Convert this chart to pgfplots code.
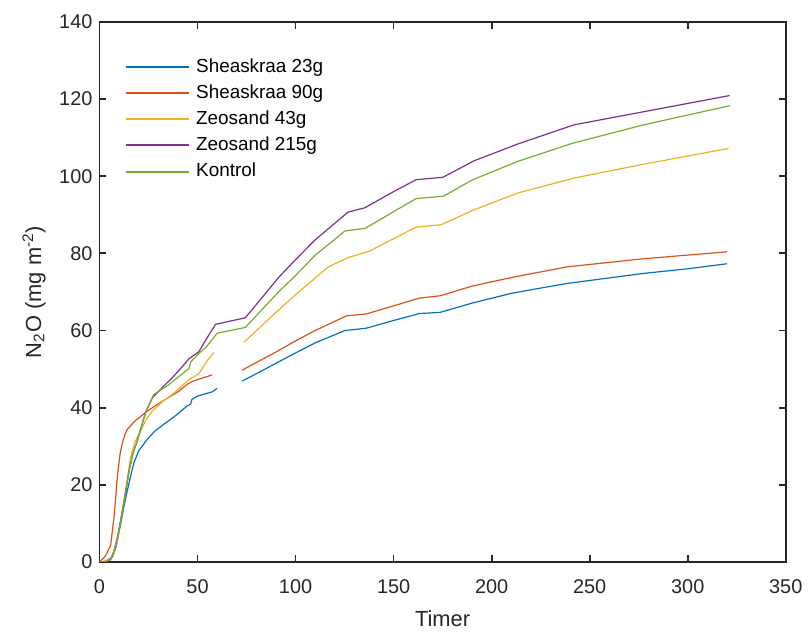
\documentclass[border=0pt]{standalone}
\usepackage{fontspec}
\setmainfont{Liberation Sans}
\usepackage{pgfplots}
\pgfplotsset{compat=1.18}

\definecolor{mblue}{rgb}{0,0.447,0.741}
\definecolor{mred}{rgb}{0.85,0.325,0.098}
\definecolor{myellow}{rgb}{0.929,0.694,0.125}
\definecolor{mpurple}{rgb}{0.494,0.184,0.556}
\definecolor{mgreen}{rgb}{0.466,0.674,0.188}
\definecolor{axgray}{rgb}{0.15,0.15,0.15}

\begin{document}
\begin{tikzpicture}
\begin{axis}[
    width=345pt, height=271.5pt,
    scale only axis,
    xmin=0, xmax=350, ymin=0, ymax=140,
    xtick={0,50,...,350},
    ytick={0,20,...,140},
    tick align=inside,
    major tick length=3.5pt,
    axis line style={axgray, line width=0.9pt},
    every tick/.style={axgray, line width=0.9pt},
    tick label style={font=\fontsize{10}{12}\selectfont, text=axgray},
    xticklabel style={yshift=-5.5pt},
    /pgf/number format/assume math mode=true,
    xlabel={Timer},
    ylabel={N\textsubscript{2}O (mg m\textsuperscript{-2})},
    label style={font=\fontsize{11}{13}\selectfont, text=axgray},
    xlabel style={yshift=-1.5pt},
    unbounded coords=jump,
    every axis plot/.append style={line width=0.6pt},
    legend style={draw=none, fill=none, at={(0.038,0.94)}, anchor=north west,
        font=\fontsize{9.5}{11}\selectfont, row sep=0.75pt, inner sep=0pt},
    legend image code/.code={\fill[#1, draw=none] (0pt,-0.5pt) rectangle (31.5pt,0.5pt);
        \path (33pt,0pt);},
    legend cell align=left,
]
% Sheaskraa 23g
\addplot[color=mblue] coordinates {
(0,0) (3,0.2) (6.6,1.3) (8.5,4) (10.8,9.9) (12.5,14.5) (14.2,18.5) (16,22.5)
(17.6,25.8) (20,28.8) (24.4,31.8) (28,33.8) (32.8,35.7) (38,37.6) (44.6,40.4)
(46.5,40.9) (47.1,42.1) (49.9,43) (54,43.6) (57.5,44.1) (60,45.0) (66,nan)
(72.7,46.9) (77,48.0) (86.3,50.5) (98.9,53.9) (110,56.8) (125.2,60.0) (136.1,60.6)
(150,62.6) (163.2,64.4) (173.7,64.7) (190,67.1) (209.7,69.6) (225,71) (238.5,72.2)
(277.4,74.8) (300,76) (320,77.3)
};
% Sheaskraa 90g
\addplot[color=mred] coordinates {
(0,0) (3,1.5) (5.7,4.3) (7.5,12) (9.1,21.9) (10.5,28) (11.7,30.9) (13,33)
(14.2,34.4) (18,36.5) (24.4,39.1) (30,41) (40.6,44.3) (44.6,46) (47.3,46.8)
(52,47.6) (57.5,48.5) (66,nan) (72.7,49.7) (91.3,54.8) (98.9,57.0) (110,60)
(126,63.8) (136.1,64.3) (150,66.4) (163.2,68.4) (173.7,69.0) (190,71.5)
(209.7,73.7) (238.5,76.5) (277.4,78.6) (320,80.4)
};
% Zeosand 43g
\addplot[color=myellow] coordinates {
(0,0) (3,0.3) (5.7,0.9) (7.5,2.5) (9.1,5.6) (10.8,10.5) (12.5,15.9) (14.2,21.5)
(15.9,27.1) (18,31) (21,34) (23.5,36.6) (26.9,39.1) (32,41.5) (38,43.8)
(44.6,46.8) (46.5,47.5) (50.7,48.8) (54.5,51.8) (58.3,54.3) (66,nan)
(73.8,57.0) (91.3,65.3) (98.9,68.8) (116.7,76.5) (126.8,78.9) (137.8,80.6)
(150,83.8) (161.5,86.8) (174.2,87.4) (191.1,91.3) (213.1,95.6) (241.9,99.5)
(277.4,103.1) (320.8,107.2)
};
% Zeosand 215g
\addplot[color=mpurple] coordinates {
(0,0) (3,0.1) (5.7,0.6) (7.5,3) (9,6) (10.8,10.7) (13,17) (15.1,23.6) (17,28)
(19.3,31.4) (21.5,35.3) (23.5,38.7) (26.9,42.5) (32,45.2) (37,47.7) (42,50.5)
(45.7,52.7) (50.7,54.5) (54.5,57.8) (59.2,61.6) (74.4,63.3) (91.3,73.7)
(98.9,77.8) (110,83.5) (126.8,90.7) (135.3,91.8) (150,96) (161.5,99.1)
(175,99.7) (191.1,104) (213.1,108.3) (241.9,113.3) (277.4,116.7) (321.3,120.9)
};
% Kontrol
\addplot[color=mgreen] coordinates {
(0,0) (3,0.1) (5.7,0.6) (7.5,3) (9,6) (10.8,10.7) (13,17) (15.1,23.6) (17,28)
(19.3,31.4) (21.5,35.3) (23.5,38.7) (27.7,43.4) (35.5,46) (39.6,47.7)
(45.7,50.2) (46.5,51.8) (50.7,54.1) (54.1,55.5) (60,59.3) (74.4,60.8)
(91.3,70) (98.9,73.7) (110,79.5) (125.2,85.8) (135.6,86.5) (150,90.8)
(161.5,94.2) (175.4,94.8) (190,99) (213.1,103.8) (241,108.5) (277.4,113.3)
(321.7,118.3)
};
\legend{Sheaskraa 23g, Sheaskraa 90g, Zeosand 43g, Zeosand 215g, Kontrol}
\end{axis}
\path ([shift={(-50pt,-31.5pt)}]current axis.south west)
    rectangle ([shift={(9.5pt,11pt)}]current axis.north east);
\end{tikzpicture}
\end{document}
